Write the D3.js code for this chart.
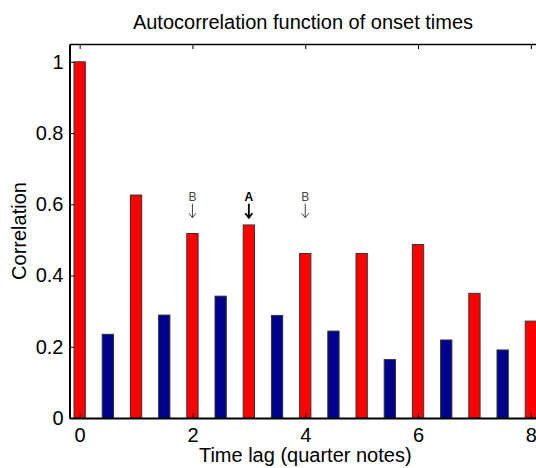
<!DOCTYPE html>
<html>
<head>
<meta charset="utf-8">
<script src="https://cdn.jsdelivr.net/npm/d3@7"></script>
<style>
  body { margin: 0; background: #fff; }
  svg { display: block; font-family: "Liberation Sans", Arial, sans-serif; }
</style>
</head>
<body>
<svg id="chart"></svg>
<script>
// on-beat lags (red) and off-beat lags (blue)
const onLags = [0, 1, 2, 3, 4, 5, 6, 7, 8];
const onCorr = [1.0, 0.626, 0.518, 0.542, 0.462, 0.462, 0.487, 0.350, 0.272];
const offLags = [0.5, 1.5, 2.5, 3.5, 4.5, 5.5, 6.5, 7.5];
const offCorr = [0.235, 0.289, 0.342, 0.288, 0.244, 0.164, 0.219, 0.191];
const xTicks = [0, 2, 4, 6, 8];
const yTicks = [0, 0.2, 0.4, 0.6, 0.8, 1];
const annLags = [2, 3, 4];
const annLabels = ["B", "A", "B"];
const annStrong = [false, true, false];

const W = 536, H = 468;
const margin = { top: 44, right: -5, bottom: 50, left: 69.5 };
const width = W - margin.left - margin.right;
const height = H - margin.top - margin.bottom;

const svg = d3.select("#chart").attr("width", W).attr("height", H);
const g = svg.append("g").attr("transform", `translate(${margin.left},${margin.top})`);

const x = d3.scaleLinear().domain([-0.18, 8.18]).range([0, width]);
const y = d3.scaleLinear().domain([0, 1.05]).range([height, 0]);
const barW = x(0.2) - x(0);

// bars
function bars(lags, vals, fill) {
    g.selectAll(null).data(lags).enter().append("rect")
        .attr("x", d => x(d) - barW / 2)
        .attr("y", (d, i) => y(vals[i]))
        .attr("width", barW)
        .attr("height", (d, i) => y(0) - y(vals[i]))
        .attr("fill", fill).attr("stroke", "#333").attr("stroke-width", 1);
}
bars(onLags, onCorr, "#ff0000");
bars(offLags, offCorr, "#00008f");

// box + ticks (matlab style, ticks inside)
const bottom = d3.axisBottom(x).tickValues(xTicks).tickFormat(d3.format("d")).tickSizeInner(-5).tickSizeOuter(0).tickPadding(9.5);
const gx = g.append("g").attr("transform", `translate(0,${height})`).call(bottom);
gx.select(".domain").attr("stroke-width", 2);
const left = d3.axisLeft(y).tickValues(yTicks).tickFormat(d => d === 0 || d === 1 ? d : d3.format(".1f")(d)).tickSizeInner(-5).tickSizeOuter(0).tickPadding(6);
const gy = g.append("g").call(left);
gy.select(".domain").attr("stroke-width", 2);
const gt = g.append("g").call(d3.axisTop(x).tickValues(xTicks).tickFormat("").tickSizeInner(-5).tickSizeOuter(0));
gt.select(".domain").attr("stroke-width", 1.5);
g.append("g").attr("transform", `translate(${width},0)`)
    .call(d3.axisRight(y).tickValues(yTicks).tickFormat("").tickSizeInner(-5).tickSizeOuter(0));

svg.selectAll(".tick text").style("font-size", "20px").attr("fill", "#000");
svg.selectAll(".tick line").attr("stroke", "#000");

// annotations
const annY = 0.61;
annLags.forEach((lag, i) => {
    const cx = x(lag), ty = y(annY);
    const col = annStrong[i] ? "#000" : "#444";
    const sw = annStrong[i] ? 1.8 : 1;
    g.append("text").attr("x", cx).attr("y", ty)
        .attr("text-anchor", "middle")
        .style("font-size", "12px").style("font-weight", annStrong[i] ? "bold" : "normal")
        .attr("fill", col).text(annLabels[i]);
    g.append("line").attr("x1", cx).attr("x2", cx).attr("y1", ty + 3).attr("y2", ty + 17)
        .attr("stroke", col).attr("stroke-width", sw);
    g.append("path").attr("d", `M${cx - 3.5},${ty + 12.5}L${cx},${ty + 17}L${cx + 3.5},${ty + 12.5}`)
        .attr("fill", "none").attr("stroke", col).attr("stroke-width", sw);
});

// labels
svg.append("text").attr("x", 303).attr("y", 28.5)
    .attr("text-anchor", "middle").style("font-size", "20px")
    .text("Autocorrelation function of onset times");
svg.append("text").attr("x", x(4) + margin.left).attr("y", 462)
    .attr("text-anchor", "middle").style("font-size", "20px")
    .text("Time lag (quarter notes)");
svg.append("text").attr("transform", `translate(26,${margin.top + height / 2}) rotate(-90)`)
    .attr("text-anchor", "middle").style("font-size", "20px")
    .text("Correlation");
</script>
</body>
</html>
